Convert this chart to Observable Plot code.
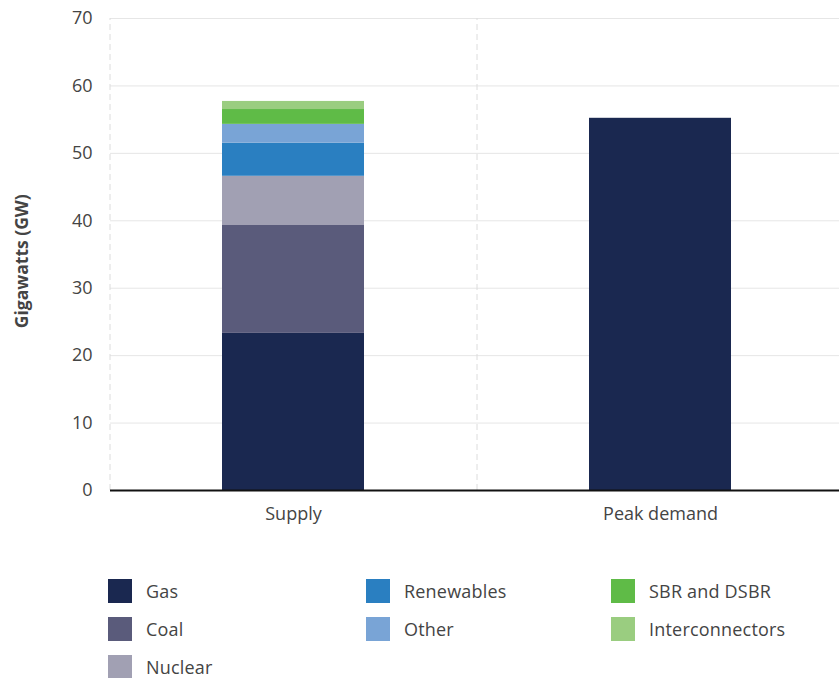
<!DOCTYPE html>
<html>
<head>
<meta charset="utf-8">
<script src="https://cdn.jsdelivr.net/npm/d3@7"></script>
<script src="https://cdn.jsdelivr.net/npm/@observablehq/plot@0.6"></script>
<style>
  html, body { margin: 0; padding: 0; background: #fff; overflow: hidden; }
  body { font-family: "Open Sans", "Noto Sans", sans-serif; color: #444; }
  #chart svg { display: block; }
  .legend { display: grid; grid-template-columns: 258px 245px 220px; grid-template-rows: repeat(3, 38px);
            margin-left: 108px; margin-top: 39px; }
  .item { display: flex; align-items: center; font-size: 18px; color: #444; height: 24px; letter-spacing: 0.2px; }
  .sw { width: 24px; height: 24px; margin-right: 14px; flex: none; }
</style>
</head>
<body>
<div id="chart"></div>
<div class="legend" id="legend"></div>
<script>
const categories = ["Supply", "Peak demand"];
const series = ["Gas", "Coal", "Nuclear", "Renewables", "Other", "SBR and DSBR", "Interconnectors"];
const supplyValues = [23.3, 16.0, 7.3, 4.9, 2.8, 2.2, 1.2];
const peakDemandValue = 55.2;
const seriesColors = ["#1a2850", "#5a5b7b", "#a1a0b3", "#2a7fc1", "#79a4d6", "#5fbb47", "#9acd80"];
const yTicks = [0, 10, 20, 30, 40, 50, 60, 70];
const legendColumns = [["Gas", "Coal", "Nuclear"], ["Renewables", "Other"], ["SBR and DSBR", "Interconnectors"]];

const rows = series.map((s, i) => ({category: "Supply", series: s, value: supplyValues[i]}));
rows.push({category: "Peak demand", series: "Peak demand", value: peakDemandValue});

const width = 839, marginLeft = 110, marginRight = -5;
const step = (width - marginLeft - marginRight) / categories.length;

const plot = Plot.plot({
  width,
  height: 540,
  marginTop: 18,
  marginBottom: 50,
  marginLeft,
  marginRight,
  style: {fontFamily: "'Open Sans', 'Noto Sans', sans-serif", fontSize: "18px", color: "#444", background: "#fff"},
  x: {domain: categories, paddingInner: 0.613, paddingOuter: 0.3065, label: null, tickSize: 0, tickPadding: 17},
  y: {domain: [0, 70], ticks: yTicks, label: null, tickSize: 0, tickPadding: 18},
  color: {domain: [...series, "Peak demand"], range: [...seriesColors, seriesColors[0]]},
  marks: [
    Plot.ruleY(yTicks.filter(d => d > 0), {stroke: "#e6e6e6", strokeWidth: 1}),
    Plot.ruleX(categories, {x: d => d, dx: -step / 2, y1: 0, y2: 70, stroke: "#dcdcdc", strokeDasharray: "6,4", strokeWidth: 1}),
    Plot.barY(rows, {x: "category", y: "value", fill: "series"}),
    Plot.ruleY([0], {stroke: "#111", strokeWidth: 2}),
    Plot.axisY({ticks: yTicks, tickSize: 0, tickPadding: 18, fill: "#444", fontSize: 18}),
    Plot.axisX({tickSize: 0, tickPadding: 17, fill: "#444", fontSize: 18, style: {letterSpacing: "0.3px"}}),
    Plot.text(["Gigawatts (GW)"], {frameAnchor: "left", dx: -88, y: 34, rotate: -90, textAnchor: "middle", fontWeight: "bold", fontSize: 17.5, fill: "#444", text: d => d})
  ]
});
document.getElementById("chart").appendChild(plot);

const legend = document.getElementById("legend");
legendColumns.forEach((col, c) => {
  col.forEach((s, r) => {
    const it = document.createElement("div");
    it.className = "item";
    it.style.gridColumn = String(c + 1);
    it.style.gridRow = String(r + 1);
    it.innerHTML = `<span class="sw" style="background:${seriesColors[series.indexOf(s)]}"></span><span>${s}</span>`;
    legend.appendChild(it);
  });
});
</script>
</body>
</html>
